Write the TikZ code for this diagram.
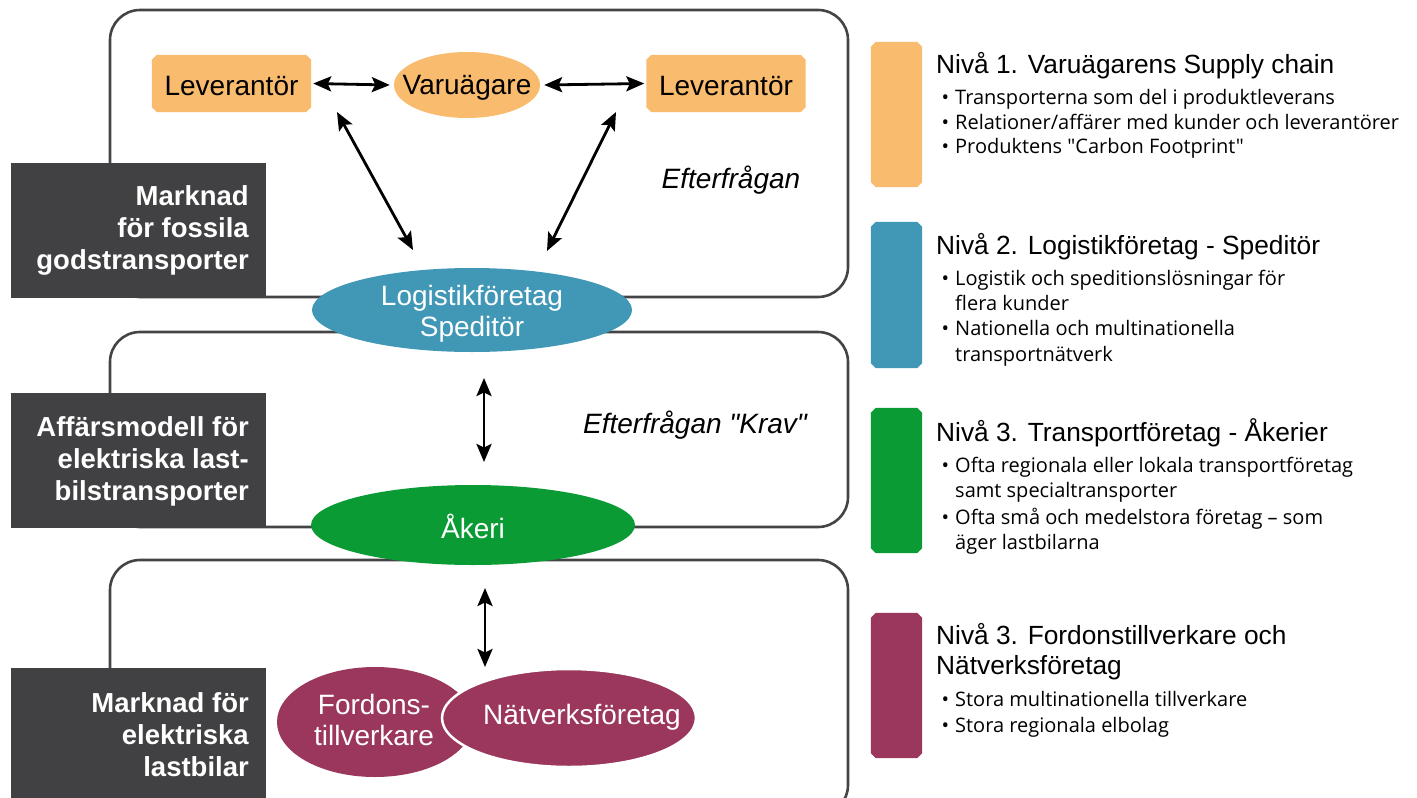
\documentclass[tikz,border=0pt]{standalone}
\usepackage{fontspec}
\setmainfont{Liberation Sans}[Ligatures=TeXOff]
\newfontfamily\bulletfont{Open Sans}
\usetikzlibrary{shapes.geometric,arrows.meta,backgrounds}
\definecolor{cOr}{HTML}{F9BB6D}
\definecolor{cBl}{HTML}{4097B6}
\definecolor{cGr}{HTML}{0A9B35}
\definecolor{cMa}{HTML}{9B365C}
\definecolor{cDk}{HTML}{414143}
\definecolor{cFr}{HTML}{444446}
\newcommand\chamferfill[3]{\fill[#2] ([xshift=#3]#1.north west) -- ([xshift=-#3]#1.north east) -- ([yshift=-#3]#1.north east) -- ([yshift=#3]#1.south east) -- ([xshift=-#3]#1.south east) -- ([xshift=#3]#1.south west) -- ([yshift=#3]#1.south west) -- ([yshift=-#3]#1.north west) -- cycle;}
\begin{document}
\begin{tikzpicture}[x=1pt,y=-1pt,
  frame/.style={draw=cFr,line width=2.6pt,rounded corners=30pt},
  darkbox/.style={fill=cDk,minimum width=255pt,minimum height=135pt,inner sep=0pt},
  boxtxt/.style={anchor=base east,inner sep=0pt,text=white,font=\fontsize{27.5}{32}\selectfont\bfseries},
  plainbox/.style={rectangle,inner sep=0pt},
  oval/.style={ellipse,inner sep=0pt},
  otxt/.style={inner sep=0pt,align=center,font=\fontsize{28}{31}\selectfont},
  dbl/.style={line width=2.8pt,{Stealth[length=18pt,width=15pt,inset=3.5pt]}-{Stealth[length=18pt,width=15pt,inset=3.5pt]}},
  ttl/.style={anchor=base west,inner sep=0pt,font=\fontsize{26.3}{30}\selectfont},
  blt/.style={anchor=base west,inner sep=0pt,font=\bulletfont\fontsize{20}{24}\selectfont},
  note/.style={inner sep=0pt,font=\fontsize{28}{30}\selectfont\itshape}
]
\useasboundingbox (0,0) rectangle (1417,798);

% frames
\draw[frame] (110,10) rectangle (848,297);
\draw[frame] (110,332) rectangle (848,527);
\draw[frame] (110,560) rectangle (848,815);

% dark boxes
\node[darkbox] (m1) at (138.5,230.5) {};
\node[darkbox] (m2) at (138.5,460.5) {};
\node[darkbox] (m3) at (138.5,735) {};
\node[boxtxt] (m1a) at (249,205) {Marknad};
\node[boxtxt] (m1b) at (249,237) {för fossila};
\node[boxtxt] (m1c) at (249,269) {godstransporter};
\node[boxtxt] (m2a) at (249,436) {Affärsmodell för};
\node[boxtxt] (m2b) at (249,468) {elektriska last-};
\node[boxtxt] (m2c) at (249,500) {bilstransporter};
\node[boxtxt] (m3a) at (249,712) {Marknad för};
\node[boxtxt] (m3b) at (249,744) {elektriska};
\node[boxtxt] (m3c) at (249,776) {lastbilar};

% top nodes
\node[plainbox,minimum width=159pt,minimum height=57pt] (levL) at (231.5,83.5) {};
\node[plainbox,minimum width=159pt,minimum height=57pt] (levR) at (726,83.5) {};
\begin{pgfonlayer}{background}
\chamferfill{levL}{cOr}{5pt}
\chamferfill{levR}{cOr}{5pt}
\end{pgfonlayer}
\node[otxt] (levLT) at ([yshift=-2.5pt]levL.center) {Leverantör};
\node[otxt] (levRT) at ([yshift=-2.5pt]levR.center) {Leverantör};
\node[oval,fill=cOr,minimum width=146pt,minimum height=66pt] (varu) at (467,85) {};
\node[otxt] (varuT) at ([yshift=-3pt]varu.center) {Varuägare};

\node[oval,fill=cBl,minimum width=320pt,minimum height=84pt] (log) at (472,310) {};
\node[otxt,text=white] (logT) at ([yshift=-4pt]log.center) {Logistikföretag\\Speditör};
\node[oval,fill=cGr,minimum width=324pt,minimum height=80pt] (ak) at (473,525) {};
\node[otxt,text=white] (akT) at ([yshift=-1pt]ak.center) {Åkeri};

\node[oval,fill=cMa,minimum width=196pt,minimum height=110pt] (ford) at (375,722) {};
\node[otxt,text=white] (fordT) at (374,720) {Fordons-\\tillverkare};
\node[oval,fill=cMa,draw=white,line width=2.5pt,minimum width=254pt,minimum height=98pt] (nat) at (569,718) {};
\node[otxt,text=white] (natT) at (582,717) {Nätverksföretag};

% notes
\node[note] (ef1) at (731,180) {Efterfrågan};
\node[note] (ef2) at (695,425) {Efterfrågan "Krav"};

% arrows
\draw[dbl] ([xshift=2pt]levL.east) -- ([xshift=-4pt]varu.west);
\draw[dbl] ([xshift=4pt]varu.east) -- ([xshift=-2pt]levR.west);
\coordinate (d1s) at (337,112);
\coordinate (d1e) at (413,250);
\coordinate (d2s) at (616,112);
\coordinate (d2e) at (547,251);
\draw[dbl] (d1s) -- (d1e);
\draw[dbl] (d2s) -- (d2e);
\coordinate (v1s) at (484,378);
\coordinate (v1e) at (484,462);
\coordinate (v2s) at (485,588);
\coordinate (v2e) at (485,667);
\draw[dbl] (v1s) -- (v1e);
\draw[dbl] (v2s) -- (v2e);

% right bars
\node[plainbox,minimum width=51pt,minimum height=145pt] (bar1) at (896.5,114.5) {};
\node[plainbox,minimum width=51pt,minimum height=146pt] (bar2) at (896.5,295) {};
\node[plainbox,minimum width=51pt,minimum height=145pt] (bar3) at (896.5,480.5) {};
\node[plainbox,minimum width=51pt,minimum height=145pt] (bar4) at (896.5,685.5) {};
\begin{pgfonlayer}{background}
\chamferfill{bar1}{cOr}{5pt}
\chamferfill{bar2}{cBl}{5pt}
\chamferfill{bar3}{cGr}{5pt}
\chamferfill{bar4}{cMa}{5pt}
\end{pgfonlayer}

% right texts
\node[ttl] (t1) at (936,73) {Nivå 1. Varuägarens Supply chain};
\node[blt] (b1a) at (955,104.5) {\llap{•\hspace{6pt}}Transporterna som del i produktleverans};
\node[blt] (b1b) at (955,129) {\llap{•\hspace{6pt}}Relationer/affärer med kunder och leverantörer};
\node[blt] (b1c) at (955,153.5) {\llap{•\hspace{6pt}}Produktens "Carbon Footprint"};

\node[ttl] (t2) at (936,254) {Nivå 2. Logistikföretag - Speditör};
\node[blt] (b2a) at (955,285) {\llap{•\hspace{6pt}}Logistik och speditionslösningar för};
\node[blt] (b2b) at (955,310) {flera kunder};
\node[blt] (b2c) at (955,335) {\llap{•\hspace{6pt}}Nationella och multinationella};
\node[blt] (b2d) at (955,361) {transportnätverk};

\node[ttl] (t3) at (936,441) {Nivå 3. Transportföretag - Åkerier};
\node[blt] (b3a) at (955,472) {\llap{•\hspace{6pt}}Ofta regionala eller lokala transportföretag};
\node[blt] (b3b) at (955,497) {samt specialtransporter};
\node[blt] (b3c) at (955,524) {\llap{•\hspace{6pt}}Ofta små och medelstora företag – som};
\node[blt] (b3d) at (955,549) {äger lastbilarna};

\node[ttl] (t4a) at (936,644) {Nivå 3. Fordonstillverkare och};
\node[ttl] (t4b) at (936,674) {Nätverksföretag};
\node[blt] (b4a) at (955,706) {\llap{•\hspace{6pt}}Stora multinationella tillverkare};
\node[blt] (b4b) at (955,732) {\llap{•\hspace{6pt}}Stora regionala elbolag};
\end{tikzpicture}
\end{document}
